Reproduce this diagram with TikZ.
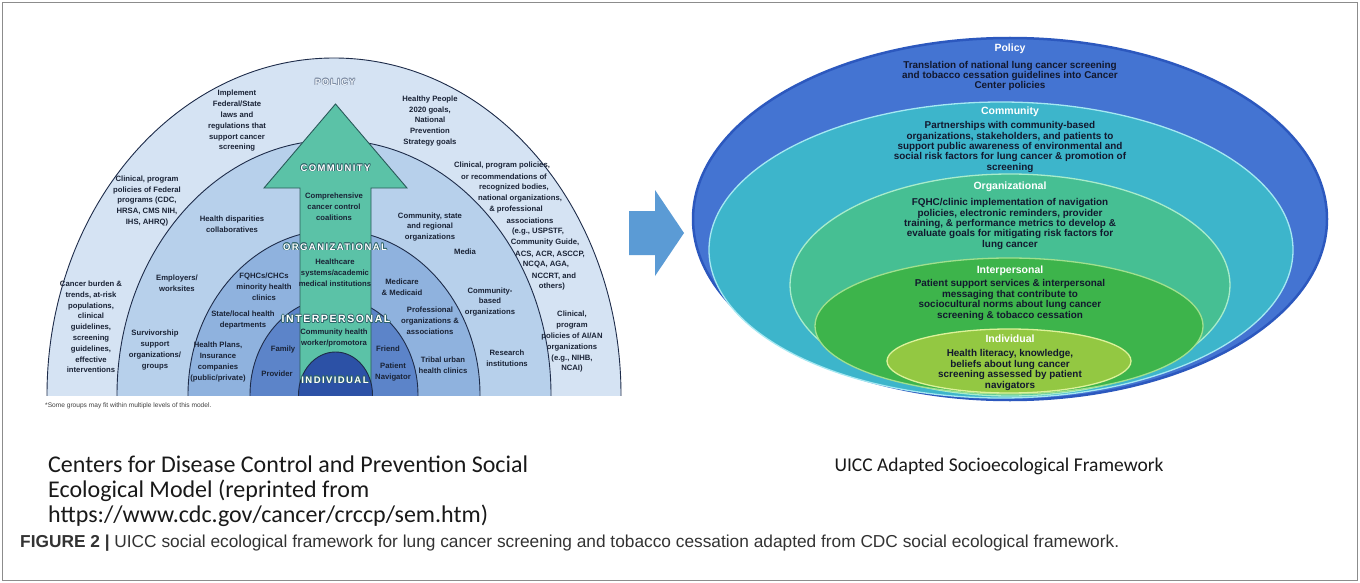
\documentclass[tikz,border=0pt]{standalone}
\usepackage{fontspec}
\setmainfont{Liberation Sans}
\newfontfamily\calib{Carlito}
\newfontfamily\widesans[LetterSpace=15]{Liberation Sans}
\definecolor{polB}{HTML}{D5E3F3}
\definecolor{comB}{HTML}{B7D0EB}
\definecolor{orgB}{HTML}{8FB2DE}
\definecolor{intB}{HTML}{5C84C9}
\definecolor{indB}{HTML}{2C51A6}
\definecolor{arcL}{HTML}{1E2C4A}
\definecolor{arrT}{HTML}{5BC2A7}
\definecolor{arrD}{HTML}{2A5A5A}
\definecolor{outl}{HTML}{2D6468}
\definecolor{polOut}{HTML}{7D8CA3}
\definecolor{txtL}{HTML}{1A2336}
\definecolor{txtR}{HTML}{12182E}
\definecolor{polR}{HTML}{4474D2}
\definecolor{polE}{HTML}{2C58BE}
\definecolor{comR}{HTML}{3DB5CB}
\definecolor{comE}{HTML}{A5E8F2}
\definecolor{orgR}{HTML}{46BF93}
\definecolor{orgE}{HTML}{A8ECCB}
\definecolor{intR}{HTML}{3DB44B}
\definecolor{intE}{HTML}{A0E08E}
\definecolor{indR}{HTML}{93C842}
\definecolor{indE}{HTML}{DDF29A}
\definecolor{arrB}{HTML}{5B9BD5}
\definecolor{frameC}{HTML}{8C8C8C}
\newcommand\oltxt[2]{%
\rlap{\kern-.7pt\textcolor{#1}{#2}}%
\rlap{\kern.7pt\textcolor{#1}{#2}}%
\rlap{\raisebox{.7pt}{\textcolor{#1}{#2}}}%
\rlap{\raisebox{-.7pt}{\textcolor{#1}{#2}}}%
\rlap{\kern-.5pt\raisebox{.5pt}{\textcolor{#1}{#2}}}%
\rlap{\kern.5pt\raisebox{.5pt}{\textcolor{#1}{#2}}}%
\rlap{\kern-.5pt\raisebox{-.5pt}{\textcolor{#1}{#2}}}%
\rlap{\kern.5pt\raisebox{-.5pt}{\textcolor{#1}{#2}}}%
#2}
\begin{document}
\begin{tikzpicture}[x=1pt,y=-1pt,
  lbl/.style={font=\bfseries\fontsize{7.7}{10.8}\selectfont, text=txtL, align=center, inner sep=0pt},
  rtx/.style={font=\bfseries\fontsize{9.9}{10.4}\selectfont, text=txtR, align=center, inner sep=0pt},
  rtl/.style={font=\bfseries\fontsize{10.5}{12}\selectfont, text=white, inner sep=0pt},
  captxt/.style={font=\calib\fontsize{24}{26}\selectfont, text=black!90, inner sep=0pt, anchor=base west},
  biglbl/.style={font=\widesans\bfseries\fontsize{9.5}{11}\selectfont, text=white, inner sep=0pt},
  band/.style={draw=arcL, line width=0.9pt},
]
\useasboundingbox (0,0) rectangle (1360,583);
\fill[white] (0,0) rectangle (1360,583);
\draw[frameC, line width=1pt] (2.5,2.5) rectangle (1357.5,580.5);

% ---------------- left: CDC social ecological model
\begin{scope}
\clip (0,0) rectangle (680,395);
\filldraw[band, fill=polB] (334,395) ellipse [x radius=287, y radius=337];
\filldraw[band, fill=comB] (334,395) ellipse [x radius=217, y radius=255];
\filldraw[band, fill=orgB] (334,395) ellipse [x radius=146, y radius=165];
\filldraw[band, fill=intB] (334,395) ellipse [x radius=84, y radius=97];
\filldraw[draw=arrD, line width=0.9pt, fill=arrT] (300,396) -- (300,188) -- (264,188) -- (335.5,104) -- (407,188) -- (371,188) -- (371,396) -- cycle;
\filldraw[band, fill=indB] (335.5,395) ellipse [x radius=37, y radius=43];
\end{scope}

\node[biglbl, text=polB!40!white, font=\widesans\bfseries\fontsize{9}{11}\selectfont] (polT) at (335,82) {\oltxt{polOut}{POLICY}};
\node[lbl] (implement) at (237,121) {Implement\\Federal/State\\laws and\\regulations that\\support cancer\\screening};
\node[lbl] (healthy) at (430,121) {Healthy People\\2020 goals,\\National\\Prevention\\Strategy goals};
\node[lbl] (federal) at (147,201) {Clinical, program\\policies of Federal\\programs (CDC,\\HRSA, CMS NIH,\\IHS, AHRQ)};
\node[lbl] (r1) at (502,166) {Clinical, program policies,};
\node[lbl] (r2) at (504,177) {or recommendations of};
\node[lbl] (r3) at (514,188) {recognized bodies,};
\node[lbl] (r4) at (520,199) {national organizations,};
\node[lbl] (r5) at (516,210) {\& professional};
\node[lbl] (r6) at (530,221) {associations};
\node[lbl] (r7) at (538,232) {(e.g., USPSTF,};
\node[lbl] (r8) at (545,243) {Community Guide,};
\node[lbl] (r9) at (550,254) {ACS, ACR, ASCCP,};
\node[lbl] (r10) at (546,265) {NCQA, AGA,};
\node[lbl] (r11) at (554,276) {NCCRT, and};
\node[lbl] (r12) at (552,287) {others)};
\node[lbl] (burden) at (91,327) {Cancer burden \&\\trends, at-risk\\populations,\\clinical\\guidelines,\\screening\\guidelines,\\effective\\interventions};
\node[lbl] (aian) at (572,342) {Clinical,\\program\\policies of AI/AN\\organizations\\(e.g., NIHB,\\NCAI)};

\node[lbl] (disp) at (232,224) {Health disparities\\collaboratives};
\node[lbl] (state) at (430,227) {Community, state\\and regional\\organizations};
\node[lbl] (employ) at (177,283) {Employers/\\worksites};
\node[lbl] (media) at (465,252) {Media};
\node[lbl] (cbo) at (490,302) {Community-\\based\\organizations};
\node[lbl] (surv) at (155,350) {Survivorship\\support\\organizations/\\groups};
\node[lbl] (research) at (507,358) {Research\\institutions};

\node[lbl] (fqhc) at (264,287) {FQHCs/CHCs\\minority health\\clinics};
\node[lbl] (slhd) at (243,320) {State/local health\\departments};
\node[lbl] (plans) at (218,362) {Health Plans,\\Insurance\\companies\\(public/private)};
\node[lbl] (medicare) at (402,287) {Medicare\\\& Medicaid};
\node[lbl] (prof) at (430,321) {Professional\\organizations \&\\associations};
\node[lbl] (tribal) at (443,365) {Tribal urban\\health clinics};

\node[lbl] (family) at (283,350) {Family};
\node[lbl] (provider) at (277,374) {Provider};
\node[lbl] (friend) at (388,349) {Friend};
\node[lbl] (navig) at (393,372) {Patient\\Navigator};

\node[biglbl] (commT) at (335.5,168) {\oltxt{outl}{COMMUNITY}};
\node[lbl] (ccc) at (334,207) {Comprehensive\\cancer control\\coalitions};
\node[biglbl] (orgT) at (335,247) {\oltxt{outl}{ORGANIZATIONAL}};
\node[lbl] (hcs) at (335,273) {Healthcare\\systems/academic\\medical institutions};
\node[biglbl, font=\widesans\bfseries\fontsize{10.5}{12}\selectfont] (intT) at (336,319) {\oltxt{outl}{INTERPERSONAL}};
\node[lbl] (chw) at (334,338) {Community health\\worker/promotora};
\node[biglbl] (indT) at (335,380) {\oltxt{outl}{INDIVIDUAL}};

\node[font=\fontsize{6.6}{8}\selectfont, text=black!75, anchor=west, inner sep=0pt] (foot) at (45,406) {*Some groups may fit within multiple levels of this model.};

% ---------------- block arrow
\fill[arrB] (629,211) -- (655,211) -- (655,190) -- (684,233) -- (655,276) -- (655,255) -- (629,255) -- cycle;

% ---------------- right: UICC adapted framework
\filldraw[draw=polE, line width=2.5pt, fill=polR] (1010,219) ellipse [x radius=317, y radius=181];
\filldraw[draw=comE, line width=1.3pt, fill=comR] (1001,250) ellipse [x radius=292, y radius=148];
\filldraw[draw=orgE, line width=1.3pt, fill=orgR] (1010,285) ellipse [x radius=220, y radius=111];
\filldraw[draw=intE, line width=1.3pt, fill=intR] (1009,326) ellipse [x radius=194, y radius=68];
\filldraw[draw=indE, line width=1.3pt, fill=indR] (1009,361) ellipse [x radius=122, y radius=32];

\node[rtl] (pT) at (1010,49) {Policy};
\node[rtx] (pX) at (1010,76) {Translation of national lung cancer screening\\and tobacco cessation guidelines into Cancer\\Center policies};
\node[rtl] (cT) at (1010,112) {Community};
\node[rtx] (cX) at (1010,147) {Partnerships with community-based\\organizations, stakeholders, and patients to\\support public awareness of environmental and\\social risk factors for lung cancer \& promotion of\\screening};
\node[rtl] (oT) at (1010,187) {Organizational};
\node[rtx] (oX) at (1010,224) {FQHC/clinic implementation of navigation\\policies, electronic reminders, provider\\training, \& performance metrics to develop \&\\evaluate goals for mitigating risk factors for\\lung cancer};
\node[rtl] (iT) at (1010,271) {Interpersonal};
\node[rtx] (iX) at (1010,300) {Patient support services \& interpersonal\\messaging that contribute to\\sociocultural norms about lung cancer\\screening \& tobacco cessation};
\node[rtl] (dT) at (1010,339) {Individual};
\node[rtx] (dX) at (1010,370) {Health literacy, knowledge,\\beliefs about lung cancer\\screening assessed by patient\\navigators};

% ---------------- captions
\node[captxt] (capL1) at (48,472) {Centers for Disease Control and Prevention Social};
\node[captxt] (capL2) at (48,497) {Ecological Model (reprinted from};
\node[captxt] (capL3) at (48,522) {https://www.cdc.gov/cancer/crccp/sem.htm)};
\node[captxt, font=\calib\fontsize{19.5}{24}\selectfont, anchor=base] (capR) at (999,471) {UICC Adapted Socioecological Framework};
\node[font=\fontsize{17.3}{19}\selectfont, anchor=base west, inner sep=0pt, text=black!80] (fig) at (20,547) {\textbf{FIGURE 2 |} UICC social ecological framework for lung cancer screening and tobacco cessation adapted from CDC social ecological framework.};
\end{tikzpicture}
\end{document}
